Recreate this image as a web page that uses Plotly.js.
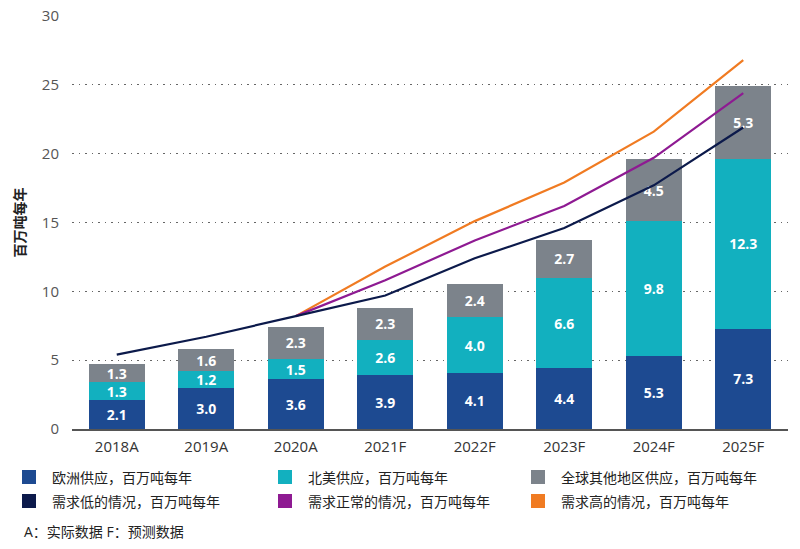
<!DOCTYPE html>
<html><head><meta charset="utf-8">
<script src="https://cdn.plot.ly/plotly-3.0.1.min.js"></script>
<style>body{margin:0;background:#fff}#c{width:800px;height:549px}</style>
</head><body><div id="c"></div>
<script>
const categories = ['2018A','2019A','2020A','2021F','2022F','2023F','2024F','2025F'];
const europe = [2.1, 3.0, 3.6, 3.9, 4.1, 4.4, 5.3, 7.3];
const northAmerica = [1.3, 1.2, 1.5, 2.6, 4.0, 6.6, 9.8, 12.3];
const restOfWorld = [1.3, 1.6, 2.3, 2.3, 2.4, 2.7, 4.5, 5.3];
const demandLow = [5.4, 6.7, 8.2, 9.7, 12.4, 14.6, 17.7, 21.9];
const demandNormal = [null, null, 8.2, 10.8, 13.7, 16.2, 19.7, 24.4];
const demandHigh = [null, null, 8.2, 11.8, 15.1, 17.9, 21.6, 26.8];
const seriesNames = ['欧洲供应，百万吨每年','北美供应，百万吨每年','全球其他地区供应，百万吨每年',
                     '需求低的情况，百万吨每年','需求正常的情况，百万吨每年','需求高的情况，百万吨每年'];
const colors = ['#1d4a91','#12b0bf','#7c838b','#0c1a4b','#8e1a92','#f07b22'];
const yTitle = '百万吨每年';
const footnote = 'A：实际数据 F：预测数据';

const FONT = '"Open Sans", "Noto Sans CJK SC", sans-serif';
const L = 72, R = 12, T = 16, B = 120, W = 800, H = 549;
const pw = W - L - R, ph = H - T - B;
const px = x => (x - L) / pw;
const py = y => (H - B - y) / ph;

function barTrace(vals, i) {
  return {type:'bar', x:categories, y:vals, name:seriesNames[i],
    marker:{color:colors[i], line:{width:0}}, width:0.63,
    text:vals.map(v=>v.toFixed(1)), textposition:'inside', insidetextanchor:'middle',
    textfont:{family:FONT, size:14, color:'#ffffff', weight:700},
    hoverinfo:'skip', showlegend:false};
}
function lineTrace(vals, i) {
  return {type:'scatter', mode:'lines', x:categories, y:vals, name:seriesNames[i],
    line:{color:colors[i], width:2.2}, connectgaps:false, showlegend:false, hoverinfo:'skip'};
}
const data = [barTrace(europe,0), barTrace(northAmerica,1), barTrace(restOfWorld,2),
  lineTrace(demandHigh,5), lineTrace(demandNormal,4), lineTrace(demandLow,3)];

const shapes = [], annotations = [];
const colX = [22, 278, 531], rowY = [477, 501];
const order = [[0,1,2],[3,4,5]];
order.forEach((row, r) => row.forEach((si, c) => {
  shapes.push({type:'rect', xref:'paper', yref:'paper',
    x0:px(colX[c]), x1:px(colX[c]+14), y0:py(rowY[r]+7), y1:py(rowY[r]-7),
    fillcolor:colors[si], line:{width:0}});
  annotations.push({xref:'paper', yref:'paper', x:px(colX[c]+28), y:py(rowY[r]),
    xanchor:'left', yanchor:'middle', showarrow:false, text:seriesNames[si],
    font:{family:FONT, size:14, color:'#222'}});
}));
annotations.push({xref:'paper', yref:'paper', x:px(22), y:py(531), xanchor:'left', yanchor:'middle',
  showarrow:false, text:footnote, font:{family:FONT, size:14, color:'#222'}});
annotations.push({xref:'paper', yref:'paper', x:px(19), y:0.5, xanchor:'center', yanchor:'middle',
  showarrow:false, textangle:-90, text:'<b>'+yTitle+'</b>', font:{family:FONT, size:14, color:'#222'}});

const layout = {
  width:W, height:H, margin:{l:L, r:R, t:T, b:B}, barmode:'stack', bargap:0.37,
  paper_bgcolor:'#fff', plot_bgcolor:'#fff', showlegend:false,
  font:{family:FONT, color:'#555'},
  uniformtext:{mode:'show', minsize:14},
  xaxis:{type:'category', range:[-0.5, 7.5], showgrid:false, zeroline:false,
    showline:true, linecolor:'#555', linewidth:1.5, ticks:'', ticklabelstandoff:3,
    tickfont:{family:FONT, size:15, color:'#333'}},
  yaxis:{range:[0, 30], tickvals:[0,5,10,15,20,25,30], showgrid:true,
    gridcolor:'#666', griddash:'1.5px,5px', gridwidth:1.2, zeroline:false, showline:false, ticks:'',
    ticklabelstandoff:12, tickfont:{family:FONT, size:15, color:'#555'}},
  shapes, annotations
};
Plotly.newPlot('c', data, layout, {staticPlot:true});
</script></body></html>
